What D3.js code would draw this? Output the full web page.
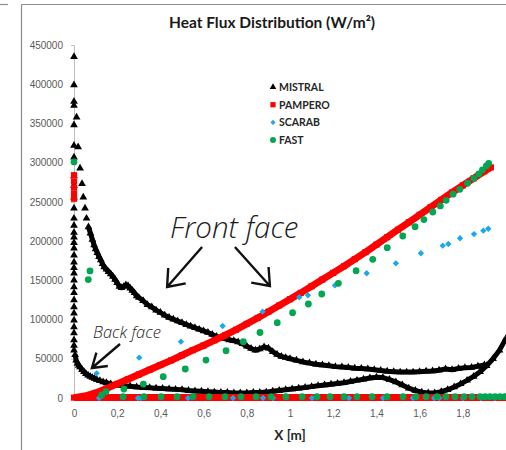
<!DOCTYPE html>
<html lang="en">
<head>
<meta charset="UTF-8">
<script src="https://cdnjs.cloudflare.com/ajax/libs/d3/7.8.5/d3.min.js"></script>
<title>Heat Flux Distribution</title>
<style>
  body { margin: 0; background: #fff; }
  svg { display: block; font-family: Lato, 'Open Sans', sans-serif; }
  .axis text { fill: #595959; font-size: 10px; }
  .axis path, .axis line { stroke: #bfbfbf; }
  .legend text { fill: #262626; font-size: 10.5px; font-weight: bold; }
  .note { font-family: 'Open Sans', sans-serif; font-style: italic; font-weight: 300; fill: #1a1a1a; }
</style>
</head>
<body>
<svg id="chart"></svg>
<script>
// tick values / labels
const yTicks = [0, 50000, 100000, 150000, 200000, 250000, 300000, 350000, 400000, 450000]
const xTicks = [0, 0.2, 0.4, 0.6, 0.8, 1, 1.2, 1.4, 1.6, 1.8]
const xTickLabels = ['0', '0,2', '0,4', '0,6', '0,8', '1', '1,2', '1,4', '1,6', '1,8']
const seriesNames = ['MISTRAL', 'PAMPERO', 'SCARAB', 'FAST']

// MISTRAL (black triangles): stagnation column at x = 0, front face, back face
const mistralCol = [435000, 399000, 378000, 373000, 348000, 322000, 307000, 283000, 271000, 256000, 242000,
  229000, 220000, 211000, 205000, 198000, 191000, 182000, 173000, 166000, 159000, 150000, 141500,
  134000, 125000, 116000, 108000, 99000, 90500, 83000, 74000, 67000, 61000]
const mistralTop = [[0.012, 358000], [0.019, 320000], [0.028, 293000], [0.037, 273000], [0.043, 256000],
  [0.051, 242000], [0.058, 229000]]
const mistralFront = [[0.067, 218000], [0.076, 210000], [0.085, 202000], [0.093, 195000],
  [0.1, 190000], [0.108, 185000], [0.116, 180000], [0.124, 176000], [0.132, 171000], [0.14, 167000],
  [0.15, 164000], [0.16, 161000], [0.17, 158000], [0.18, 155000], [0.19, 151000], [0.2, 147000],
  [0.21, 142000], [0.22, 140500], [0.23, 142000], [0.24, 144000], [0.25, 143000], [0.26, 140000],
  [0.27, 137000], [0.28, 134000], [0.29, 130000], [0.3, 128000], [0.32, 124000], [0.34, 119000],
  [0.36, 116000], [0.38, 112000], [0.4, 109000], [0.42, 105500], [0.44, 102500], [0.46, 100500],
  [0.48, 98000], [0.5, 96000], [0.52, 93500], [0.54, 91500], [0.56, 89500], [0.58, 87500], [0.6, 85500],
  [0.62, 83500], [0.64, 81000], [0.66, 78500], [0.68, 76500], [0.7, 75500], [0.72, 74000], [0.74, 73000],
  [0.76, 71500], [0.78, 69000], [0.8, 66000], [0.82, 63000], [0.84, 61000], [0.86, 62500], [0.88, 65000],
  [0.9, 63500], [0.92, 59000], [0.94, 55500], [0.96, 53000], [0.98, 51500], [1.0, 50000], [1.03, 48000],
  [1.06, 46000], [1.09, 44500], [1.12, 43000], [1.15, 42000], [1.18, 41000], [1.21, 40000], [1.24, 39500],
  [1.27, 39000], [1.3, 38000], [1.33, 37500], [1.36, 37000], [1.39, 36000], [1.42, 35000], [1.45, 34000],
  [1.48, 33500], [1.51, 33000], [1.54, 33000], [1.57, 33000], [1.6, 33500], [1.63, 34000], [1.66, 34500],
  [1.69, 35500], [1.72, 37000], [1.75, 36000], [1.78, 37500], [1.81, 38500], [1.84, 39000], [1.87, 40500],
  [1.9, 42000]]
const mistralBack = [[0.005, 55000], [0.01, 48000], [0.016, 44000], [0.022, 41500], [0.028, 39500],
  [0.037, 36000], [0.046, 33500], [0.055, 31000], [0.065, 29000], [0.075, 27500], [0.085, 26000],
  [0.095, 25000], [0.105, 23500], [0.12, 22000], [0.135, 20500], [0.15, 19500], [0.17, 18000], [0.2, 16600],
  [0.23, 15700], [0.26, 15000], [0.29, 14000], [0.32, 13500], [0.35, 13000], [0.38, 12500], [0.41, 12000],
  [0.44, 11500], [0.47, 11000], [0.5, 10500], [0.53, 9500], [0.56, 9000], [0.59, 8500], [0.62, 8000],
  [0.65, 7500], [0.68, 7000], [0.71, 7000], [0.74, 6500], [0.77, 6500], [0.8, 6500], [0.83, 7000],
  [0.86, 7000], [0.89, 7500], [0.92, 8500], [0.95, 9500], [0.98, 10500], [1.01, 11500], [1.04, 12500],
  [1.07, 13500], [1.1, 14500], [1.13, 15500], [1.16, 16500], [1.19, 17500], [1.22, 18500], [1.25, 19500],
  [1.28, 21000], [1.31, 22500], [1.34, 24000], [1.37, 25500], [1.4, 26500], [1.43, 26000], [1.46, 23500],
  [1.49, 20500], [1.52, 16500], [1.55, 12500], [1.58, 9500], [1.61, 7500], [1.64, 6500], [1.67, 6500],
  [1.7, 8000], [1.73, 10500], [1.76, 14000], [1.79, 18000], [1.82, 22500], [1.85, 27500], [1.88, 33500],
  [1.91, 41000], [1.94, 50000], [1.97, 61000], [2.0, 76000]]

// PAMPERO (red squares)
const pamperoCol = [284000, 276000, 268000, 260000, 254000]
const pamperoFront = [[0, 500], [0.05, 2500], [0.1, 6500], [0.15, 12000], [0.2, 18000], [0.25, 24000],
  [0.3, 30000], [0.35, 36000], [0.4, 42000], [0.45, 48000], [0.5, 54500], [0.55, 61000], [0.6, 67000],
  [0.65, 73500], [0.7, 80000], [0.75, 87000], [0.8, 94500], [0.85, 102000], [0.9, 110000], [0.95, 118000],
  [1.0, 126000], [1.05, 134000], [1.1, 142500], [1.15, 151000], [1.2, 159500], [1.25, 168000],
  [1.3, 177000], [1.35, 186000], [1.4, 195500], [1.45, 205000], [1.5, 214500], [1.55, 224000],
  [1.6, 233500], [1.65, 243000], [1.7, 252500], [1.75, 262000], [1.8, 271000], [1.85, 280000],
  [1.9, 289000], [1.93, 294000]]
const pamperoBack = [[0, 600], [0.1, 600], [0.2, 600], [0.3, 600], [0.4, 600], [0.5, 600], [0.6, 600],
  [0.7, 600], [0.8, 600], [0.9, 600], [1.0, 600], [1.1, 600], [1.2, 600], [1.3, 600], [1.4, 600],
  [1.5, 600], [1.6, 600], [1.7, 600], [1.8, 600], [1.9, 600], [2.0, 600]]

// SCARAB (blue diamonds)
const scarabFront = [[0.105, 31500], [0.302, 51400], [0.495, 71800], [0.688, 91800], [0.873, 110000],
  [1.043, 128400], [1.083, 131000], [1.208, 143500], [1.355, 159000], [1.49, 171700], [1.606, 184500],
  [1.707, 194200], [1.733, 196300], [1.787, 203600], [1.852, 209000], [1.895, 213300], [1.918, 215800]]
const scarabBack = [[0.116, 0], [0.296, 0], [0.31, 0], [0.528, 0], [0.736, 0], [0.875, 0], [0.921, 0],
  [1.102, 0], [1.273, 0], [1.431, 0], [1.569, 0], [1.667, 0], [1.691, 0], [1.801, 0], [1.884, 0], [1.949, 0]]

// FAST (green circles)
const fastFront = [[0, 301000], [0.066, 151000], [0.074, 162000], [0.128, 3500], [0.148, 8000],
  [0.231, 11500], [0.321, 17800], [0.413, 27200], [0.515, 37000], [0.611, 48400], [0.704, 60300],
  [0.784, 71800], [0.861, 83500], [0.941, 96000], [1.012, 108700], [1.085, 119800], [1.147, 132600],
  [1.224, 146200], [1.306, 162300], [1.383, 176800], [1.45, 191600], [1.522, 206500], [1.579, 218400],
  [1.62, 227500], [1.661, 237100], [1.696, 244800], [1.723, 252000], [1.755, 259800], [1.786, 266000],
  [1.822, 273700], [1.851, 280100], [1.874, 285600], [1.891, 290700], [1.909, 295800], [1.92, 299200]]
const fastBack = [[0.227, 1700], [0.324, 1700], [0.403, 1700], [0.477, 1700], [0.551, 1700], [0.625, 1700],
  [0.699, 1700], [0.773, 1700], [0.843, 1700], [0.912, 1700], [0.981, 1700], [1.056, 1700], [1.125, 1700],
  [1.185, 1700], [1.25, 1700], [1.31, 1700], [1.38, 1700], [1.449, 1700], [1.523, 1700], [1.583, 1700],
  [1.63, 1700], [1.681, 1700], [1.722, 1700], [1.764, 1700], [1.806, 1700], [1.843, 1700], [1.88, 1700],
  [1.903, 1700], [1.926, 1700], [1.949, 1700], [1.972, 1700], [1.995, 1700]]

const W = 506, H = 450
const plot = { left: 74, right: 506, top: 45, bot: 398 }
const colors = { MISTRAL: '#000000', PAMPERO: '#ff0000', SCARAB: '#1aa7ec', FAST: '#00a650' }

const xScale = d3.scaleLinear().domain([0, 2]).range([plot.left, plot.right])
const yScale = d3.scaleLinear().domain([0, 450000]).range([plot.bot, plot.top])

const svg = d3.select('#chart').attr('width', W).attr('height', H)

// outer frame (cropped from a larger figure)
const frame = svg.append('g').attr('stroke', '#8c8c8c').attr('stroke-width', 1.2)
frame.append('line').attr('x1', 0).attr('x2', 8).attr('y1', 4.5).attr('y2', 4.5)
frame.append('line').attr('x1', 21.5).attr('x2', W).attr('y1', 4.5).attr('y2', 4.5)
frame.append('line').attr('x1', 21.5).attr('x2', 21.5).attr('y1', 4.5).attr('y2', H)

// title
svg.append('text')
  .attr('x', 272).attr('y', 28)
  .attr('text-anchor', 'middle')
  .style('font-size', '15.5px').style('font-weight', 'bold').style('fill', '#1a1a1a')
  .text('Heat Flux Distribution (W/m²)')

// axes
svg.append('g')
  .attr('class', 'axis')
  .attr('transform', 'translate(' + plot.left + ',0)')
  .call(d3.axisLeft(yScale).tickValues(yTicks).tickSize(3).tickPadding(8).tickFormat(d3.format('d')))

svg.append('g')
  .attr('class', 'axis')
  .attr('transform', 'translate(0,' + plot.bot + ')')
  .call(d3.axisBottom(xScale).tickValues(xTicks).tickSize(0).tickPadding(12)
    .tickFormat((d, i) => xTickLabels[i]))
  .call(g => g.select('.domain').attr('stroke', '#bfbfbf'))

svg.append('text')
  .attr('x', (plot.left + plot.right) / 2).attr('y', 440)
  .attr('text-anchor', 'middle')
  .style('font-size', '13.5px').style('font-weight', 'bold').style('fill', '#262626')
  .text('X [m]')

const marks = svg.append('g')
const line = d3.line().x(d => xScale(d[0])).y(d => yScale(d[1]))

const tri = d3.symbol(d3.symbolTriangle, 26)()
const sq = d3.symbol(d3.symbolSquare, 38)()
const dia = d3.symbol(d3.symbolSquare, 20)()

function drawPts(data, path, color, rot) {
  marks.append('g').selectAll('path')
    .data(data)
    .enter()
    .append('path')
    .attr('d', path)
    .attr('fill', color)
    .attr('transform', d => 'translate(' + xScale(d[0]) + ',' + yScale(d[1]) + ')' + (rot ? ' rotate(45)' : ''))
}
function drawBand(data, color, w) {
  marks.append('path')
    .datum(data)
    .attr('d', line)
    .attr('fill', 'none')
    .attr('stroke', color)
    .attr('stroke-width', w)
    .attr('stroke-linejoin', 'round')
}

// MISTRAL
drawBand(mistralFront, colors.MISTRAL, 5)
drawBand(mistralBack, colors.MISTRAL, 5)
drawPts(mistralCol.map(v => [0, v]), tri, colors.MISTRAL)
drawPts(mistralTop, tri, colors.MISTRAL)
drawPts(mistralFront, tri, colors.MISTRAL)
drawPts(mistralBack, tri, colors.MISTRAL)

// PAMPERO
drawBand(pamperoFront, colors.PAMPERO, 7)
drawBand(pamperoBack, colors.PAMPERO, 7)
drawPts(pamperoCol.map(v => [0, v]), sq, colors.PAMPERO)
drawPts(pamperoFront, sq, colors.PAMPERO)

// SCARAB
drawPts(scarabFront, dia, colors.SCARAB, true)
drawPts(scarabBack, dia, colors.SCARAB, true)

// FAST
marks.append('g').selectAll('circle')
  .data(fastFront.concat(fastBack))
  .enter()
  .append('circle')
  .attr('cx', d => xScale(d[0]))
  .attr('cy', d => yScale(d[1]))
  .attr('r', 3.4)
  .attr('fill', colors.FAST)

// legend
const legend = svg.append('g').attr('class', 'legend')
const legendSym = [tri, sq, dia, null]
seriesNames.forEach((name, i) => {
  const ly = 87 + i * 17.7
  const g = legend.append('g').attr('transform', 'translate(273,' + ly + ')')
  if (legendSym[i]) {
    g.append('path').attr('d', legendSym[i]).attr('fill', colors[name])
      .attr('transform', i === 2 ? 'rotate(45) scale(0.8)' : 'scale(0.85)')
  } else {
    g.append('circle').attr('r', 3).attr('fill', colors[name])
  }
  g.append('text').attr('x', 6).attr('y', 4).text(name)
})

// annotations (placed in data units)
function arrow(x1, v1, x2, v2, len, ang) {
  const ax = xScale(x1), ay = yScale(v1), bx = xScale(x2), by = yScale(v2)
  const a = Math.atan2(ay - by, ax - bx)
  const p = d3.path()
  p.moveTo(ax, ay); p.lineTo(bx, by)
  p.moveTo(bx + len * Math.cos(a - ang), by + len * Math.sin(a - ang))
  p.lineTo(bx, by)
  p.lineTo(bx + len * Math.cos(a + ang), by + len * Math.sin(a + ang))
  svg.append('path').attr('d', p.toString())
    .attr('fill', 'none').attr('stroke', '#111').attr('stroke-width', 2.4)
}

svg.append('text').attr('class', 'note')
  .attr('x', xScale(0.444)).attr('y', yScale(204000))
  .style('font-size', '29.5px')
  .text('Front face')
arrow(0.593, 192500, 0.431, 141500, 19, 0.66)
arrow(0.745, 192500, 0.907, 142800, 19, 0.66)

svg.append('text').attr('class', 'note')
  .attr('x', xScale(0.088)).attr('y', yScale(76500))
  .style('font-size', '16.5px')
  .text('Back face')
arrow(0.213, 68800, 0.083, 38200, 16, 0.58)
</script>
</body>
</html>
